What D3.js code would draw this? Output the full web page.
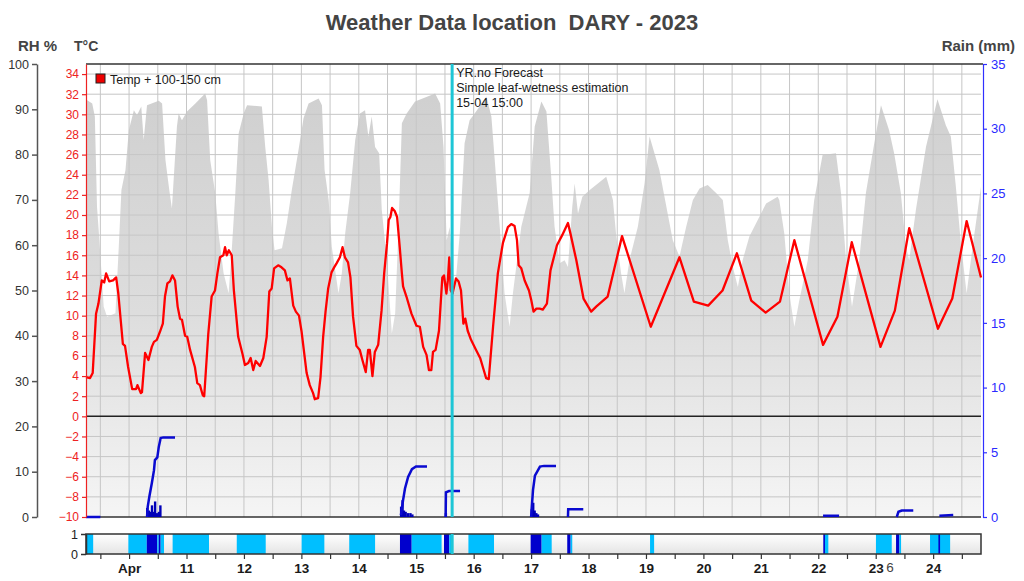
<!DOCTYPE html>
<html>
<head>
<meta charset="utf-8">
<script src="https://cdn.jsdelivr.net/npm/d3@7"></script>
<style>
  body { margin: 0; background: #fff; font-family: "Liberation Sans", Arial, sans-serif; }
  .axis text { font-family: "Liberation Sans", Arial, sans-serif; }
</style>
</head>
<body>
<svg id="chart" width="1024" height="581"></svg>
<script>
// hours are counted from Apr 10 00:00
const tempPoints = [
  [-18,3.9],[-16.3,3.8],[-15.2,4.3],[-13.8,10.2],[-12.8,11.2],[-11.4,13.5],[-10.4,13.3],[-9.6,14.2],[-8.3,13.4],[-6.7,13.5],
  [-5.4,13.8],[-4.5,12.2],[-2.6,7.2],[-1.7,7.0],[-0.4,4.9],[1.3,2.7],[2.9,2.7],[3.5,3.1],[4.9,2.3],[5.4,2.4],
  [6.7,6.3],[8.1,5.6],[9.5,6.9],[10.4,7.4],[11.6,7.6],[12.9,8.4],[14.1,9.2],[15.0,11.9],[16.0,13.2],[17.1,13.4],
  [18.1,14.0],[19.2,13.5],[20.3,10.9],[21.3,9.7],[22.1,9.6],[23.4,8.0],[24.3,7.9],[25.5,6.6],[27.5,4.9],[28.5,3.3],
  [29.6,3.1],[30.8,2.1],[31.4,2.0],[33.1,8.2],[34.5,11.9],[35.9,12.5],[36.9,14.2],[38.0,15.8],[39.4,16.0],[40.1,16.8],
  [40.8,16.0],[41.7,16.5],[42.9,16.0],[43.8,12.5],[45.6,7.9],[47.5,6.1],[48.4,5.1],[49.8,5.3],[50.8,5.8],[51.9,4.6],
  [52.9,5.5],[54.7,5.0],[56.1,5.8],[57.5,7.9],[58.6,12.4],[59.6,12.7],[60.6,14.7],[62.3,15.0],[63.7,14.8],[65.1,14.5],
  [66.2,13.5],[67.2,13.7],[68.6,11.0],[69.7,10.4],[71.0,10.0],[72.1,8.4],[74.2,4.3],[75.5,3.1],[76.9,2.3],[77.6,1.7],
  [79.0,1.8],[80.0,3.9],[81.1,7.9],[82.1,10.4],[83.2,12.7],[84.6,14.3],[85.7,14.8],[86.7,15.2],[88.1,15.8],[89.2,16.8],
  [90.2,15.8],[91.5,15.3],[92.5,13.8],[93.6,9.9],[95.0,7.0],[96.4,6.6],[97.5,5.6],[98.9,4.4],[99.9,6.6],[100.6,6.6],
  [101.7,4.0],[102.7,6.4],[104.1,7.1],[105.5,10.5],[106.6,14.2],[107.8,17.2],[108.5,19.5],[109.2,19.8],[109.9,20.7],[111.0,20.4],
  [112.0,19.8],[113.1,16.8],[114.0,14.2],[114.5,12.9],[115.9,11.9],[118.0,10.2],[120.1,9.0],[121.5,8.9],[122.9,6.9],[124.3,6.1],
  [125.3,4.6],[126.3,4.6],[127.0,6.4],[128.1,6.6],[129.5,8.5],[130.9,13.8],[131.6,14.0],[132.6,12.2],[133.2,13.5],[133.8,15.8],
  [134.4,12.5],[135.2,12.2],[136.6,13.7],[137.7,13.4],[138.7,12.5],[139.7,9.2],[140.5,9.7],[141.5,8.5],[142.9,7.6],[145.0,6.6],
  [146.7,5.8],[148.2,4.6],[149.2,3.8],[150.3,3.7],[152.1,8.9],[154.1,14.2],[156.2,17.2],[158.3,18.8],[159.7,19.1],[161.1,18.9],
  [162.1,17.5],[162.8,15.0],[163.9,14.7],[165.3,13.5],[167.1,12.5],[168.1,11.5],[169.0,10.4],[170.2,10.7],[171.6,10.7],[172.9,10.6],
  [174.6,11.2],[176.1,14.5],[178.8,17.0],[181.0,18.0],[183.4,19.2],[184.4,18.2],[186.9,15.5],[189.9,11.7],[193.1,10.4],[195.2,10.9],
  [200,11.9],[206,17.9],[218,8.9],[230,15.8],[236,11.4],[242,11.0],[248,12.5],[254,16.2],[260,11.5],[266,10.3],
  [272,11.4],[278,17.5],[290,7.1],[296,9.9],[302,17.3],[314,6.9],[320,10.5],[326,18.7],[338,8.7],[344,11.7],
  [350,19.4],[356,13.8]
];

const rhPoints = [
  [-18,92],[-17.5,92],[-15.4,91.3],[-14.3,88.4],[-13.4,68.5],[-12.4,61.1],[-10.6,46.4],[-9.2,44.2],[-5.7,45],[-4.3,59.7],
  [-3.2,72.2],[-1.5,76.6],[-0.1,85.4],[2.0,89.8],[3.3,88.7],[5.1,90.6],[6.1,83.2],[7.5,90.9],[12.4,91.9],[13.8,91.3],
  [15.2,78.8],[16.8,72.2],[17.9,68.1],[18.7,75.1],[20.0,86.2],[20.7,89.1],[22.1,87.6],[24.2,89.5],[27.7,91.3],[31.8,93.5],
  [32.6,92],[33.9,78.8],[36.0,71.5],[37.4,62.6],[39.5,53.8],[41.6,49.4],[43.0,59.7],[44.4,71.5],[45.8,84.7],[47.9,89.1],
  [49.3,90.9],[55.5,90.6],[56.9,81.7],[58.3,74.4],[59.7,64.1],[60.8,58.9],[63.9,59.3],[65.9,64.8],[68.0,72.2],[70.8,81],
  [72.9,88],[75.0,91.3],[79.2,92.4],[80.6,90.9],[81.7,76.6],[83.4,70],[84.7,59.7],[87.5,49.4],[88.9,53.8],[90.3,62.6],
  [92.4,71.5],[94.5,83.2],[96.5,89.1],[98.6,89.8],[100.0,84],[101.4,88.4],[102.8,81.7],[104.5,80.3],[105.6,67.8],[107.7,56.7],
  [109.8,40.5],[111.2,45],[112.6,64.1],[114.0,86.9],[116.0,89.1],[119.5,91.7],[127.9,93.5],[130.0,91.3],[131.4,81.7],[132.7,61.1],
  [134.0,64],[136.1,49.4],[138.2,62.6],[140.2,82.5],[142.3,87.6],[144.4,89.1],[146.5,90.6],[149.3,92.8],[151.4,88.4],[152.8,78.8],
  [154.9,64.1],[156.9,49.4],[159.0,42],[160.4,49.4],[163.9,64.1],[167.4,71.5],[169.5,86.2],[172.3,91.7],[174.4,89.5],[176.4,75.1],
  [177.8,64.1],[179.9,56],[182.0,56.7],[183.4,55.2],[185.2,68.5],[186.2,73.6],[187.6,67],[189.4,70.7],[192.5,72.2],[195.9,73.6],
  [199.4,75.1],[202.2,70],[203.6,61.9],[205.6,53.8],[207.0,49.4],[209.1,56.7],[212.6,64.1],[215.4,73.6],[217.5,84],[221.6,76.6],
  [227.2,61.1],[230.0,57.5],[232.8,64.1],[235.6,70],[238.4,72.5],[241.8,73.3],[245.3,71.5],[248.1,70],[250.2,61.1],[252.3,55.2],
  [254.4,50.8],[256.4,56.7],[259.2,61.9],[263.4,66.3],[266.2,69.2],[271.0,70.7],[271.7,70],[273.8,62.6],[275.9,49.4],[278.0,42],
  [280.1,47.9],[283.6,56.7],[286.3,70],[289.8,79.9],[295.4,80.3],[297.5,71.5],[299.6,56.7],[302.1,46.4],[305.1,56.7],[307.9,71.5],
  [311.4,82.5],[314.2,90.9],[317.6,85.4],[319.7,80.3],[322.5,71.5],[324.6,59.7],[326.0,56.7],[328.8,67.8],[333.0,81.7],[337.8,92.2],
  [341.3,86.5],[343.4,84],[345.5,72.9],[347.6,60.4],[350.0,49.4],[352.5,59.7],[356,72.9]
];

// accumulated rain per shower (mm), null splits the showers
const rainSumPoints = [
  [-18,0],[-12,0], null,
  [7.5,0],[7.8,0.8],[8.5,1.6],[9.5,2.6],[10.4,3.6],[10.8,4.4],[11.8,4.6],[12.4,5.4],[13.2,6.1],[14.3,6.15],[19.2,6.15], null,
  [113.6,0.15],[114.5,1.3],[115.3,2.2],[116.6,3.1],[118.2,3.7],[119.9,3.9],[124.5,3.9], null,
  [132.3,0],[132.4,1.9],[133.7,2.0],[138.3,2.0], null,
  [168.0,0],[168.8,2.1],[169.6,3.2],[171.7,3.9],[173.4,3.95],[178.4,3.95], null,
  [183.4,0],[183.5,0.6],[189.8,0.6], null,
  [290.0,0.1],[296.7,0.1], null,
  [320.8,0],[321.5,0.4],[322.9,0.5],[327.7,0.5], null,
  [338.6,0.1],[344.4,0.15]
];

// hourly rain (mm)
const rainHourly = [
  [7.5,0.7],[8.2,0.5],[9.0,0.4],[9.5,0.9],[10.3,0.4],[10.8,1.2],[11.5,0.3],[12.4,0.4],[13.0,0.9],
  [113.6,0.8],[114.2,1.3],[114.8,0.5],[115.5,0.4],[116.5,0.3],[117.5,0.3],[118.3,0.2],
  [132.3,0.3],[168.2,0.6],[168.8,1.1],[169.4,0.5],[170.1,0.3],[170.8,0.2]
];

// leaf wetness periods: [from, to, kind]
const wetPeriods = [
  [-18,-15,'wet'],[-0.3,7.4,'wet'],[7.4,11.8,'rain'],[11.8,12.4,'wet'],[12.4,13.2,'rain'],[13.2,14.6,'wet'],
  [18.2,33.4,'wet'],[45,57.1,'wet'],[72.1,81.6,'wet'],[92,102.8,'wet'],[113.2,118.1,'rain'],[118.1,130.6,'wet'],
  [131.6,133.8,'rain'],[133.8,135.4,'wet'],[141.8,152.5,'wet'],[167.8,172.4,'rain'],[172.4,176.6,'wet'],
  [183.1,184.5,'rain'],[184.5,185.2,'wet'],[217.7,219.4,'wet'],[290.1,290.8,'rain'],[290.8,292.2,'wet'],
  [312.1,318.7,'wet'],[320.5,321.9,'rain'],[321.9,322.6,'wet'],[334.7,343.1,'wet'],[338.2,338.9,'rain']
];

const dayLabels = ['Apr','11','12','13','14','15','16','17','18','19','20','21','22','23','24'];
const forecastHour = 135; // 15-04 15:00
const annotation = ['YR.no Forecast', 'Simple leaf-wetness estimation', '15-04 15:00'];

const plot = {left: 86, right: 981, top: 64, bottom: 517};
const strip = {top: 534, bottom: 554};
const t0 = new Date(2023, 3, 10);
const toDate = h => new Date(t0.getTime() + h * 3600e3);

const svg = d3.select('#chart');

const x = d3.scaleTime().domain([toDate(-18), toDate(356)]).range([plot.left, plot.right]);
const yT = d3.scaleLinear().domain([-10, 35]).range([plot.bottom, plot.top]);
const yRH = d3.scaleLinear().domain([0, 100]).range([plot.bottom, plot.top]);
const yRain = d3.scaleLinear().domain([0, 35]).range([plot.bottom, plot.top]);
const yWet = d3.scaleLinear().domain([0, 1]).range([strip.bottom, strip.top]);

const defs = svg.append('defs');
let g1 = defs.append('linearGradient').attr('id', 'rhGrad')
  .attr('gradientUnits', 'userSpaceOnUse')
  .attr('x1', 0).attr('x2', 0).attr('y1', plot.top).attr('y2', plot.bottom);
g1.append('stop').attr('offset', 0).attr('stop-color', '#cecece');
g1.append('stop').attr('offset', 0.55).attr('stop-color', '#dddddd');
g1.append('stop').attr('offset', 1).attr('stop-color', '#f5f5f5');
let g2 = defs.append('linearGradient').attr('id', 'stripGrad')
  .attr('x1', 0).attr('x2', 0).attr('y1', 0).attr('y2', 1);
g2.append('stop').attr('offset', 0).attr('stop-color', '#ffffff');
g2.append('stop').attr('offset', 1).attr('stop-color', '#e4e4e4');

// RH area
svg.append('path')
  .datum(rhPoints)
  .attr('fill', 'url(#rhGrad)')
  .attr('d', d3.area()
    .x(d => x(toDate(d[0])))
    .y0(plot.bottom)
    .y1(d => yRH(d[1])));

// grid
const gridHours = d3.range(-12, 356, 12);
svg.append('g').selectAll('line')
  .data(gridHours)
  .enter()
  .append('line')
  .attr('x1', d => x(toDate(d))).attr('x2', d => x(toDate(d)))
  .attr('y1', plot.top).attr('y2', plot.bottom)
  .attr('stroke', '#c6c6c6');
svg.append('g').selectAll('line')
  .data(d3.range(-8, 35, 2))
  .enter()
  .append('line')
  .attr('x1', plot.left).attr('x2', plot.right)
  .attr('y1', d => yT(d)).attr('y2', d => yT(d))
  .attr('stroke', d => d === 0 ? '#222' : '#c6c6c6')
  .attr('stroke-width', d => d === 0 ? 1.5 : 1);

// frame lines
svg.append('line').attr('x1', plot.left).attr('x2', plot.right + 2)
  .attr('y1', plot.top).attr('y2', plot.top).attr('stroke', '#333').attr('stroke-width', 1.5);
svg.append('line').attr('x1', plot.left).attr('x2', plot.right)
  .attr('y1', plot.bottom).attr('y2', plot.bottom).attr('stroke', '#333').attr('stroke-width', 1.5);

// hourly rain spikes
svg.append('g').selectAll('rect')
  .data(rainHourly)
  .enter()
  .append('rect')
  .attr('x', d => x(toDate(d[0])) - 1)
  .attr('width', d => x(toDate(d[0] + 1)) - x(toDate(d[0])))
  .attr('y', d => yRain(d[1]))
  .attr('height', d => plot.bottom - yRain(d[1]))
  .attr('fill', '#0000b8');

// accumulated rain
svg.append('path')
  .datum(rainSumPoints)
  .attr('fill', 'none')
  .attr('stroke', '#0a0ad0')
  .attr('stroke-width', 2.5)
  .attr('d', d3.line()
    .defined(d => d !== null)
    .x(d => x(toDate(d[0])))
    .y(d => yRain(d[1])));

// temperature
svg.append('path')
  .datum(tempPoints)
  .attr('fill', 'none')
  .attr('stroke', '#ff0000')
  .attr('stroke-width', 2.3)
  .attr('stroke-linejoin', 'round')
  .attr('d', d3.line()
    .x(d => x(toDate(d[0])))
    .y(d => yT(d[1])));

// leaf wetness strip
svg.append('rect')
  .attr('x', plot.left).attr('y', strip.top)
  .attr('width', plot.right - plot.left).attr('height', strip.bottom - strip.top)
  .attr('fill', 'url(#stripGrad)');
svg.append('g').selectAll('rect')
  .data(wetPeriods)
  .enter()
  .append('rect')
  .attr('x', d => x(toDate(d[0])))
  .attr('width', d => x(toDate(d[1])) - x(toDate(d[0])))
  .attr('y', yWet(1))
  .attr('height', yWet(0) - yWet(1))
  .attr('fill', d => d[2] === 'rain' ? '#0000cd' : '#00bfff');
svg.append('rect')
  .attr('x', plot.left).attr('y', strip.top)
  .attr('width', plot.right - plot.left).attr('height', strip.bottom - strip.top)
  .attr('fill', 'none').attr('stroke', '#333').attr('stroke-width', 1.5);

// forecast marker
const fx = x(toDate(forecastHour));
[[plot.top, plot.bottom], [strip.top, strip.bottom]].forEach(r => {
  svg.append('line').attr('x1', fx).attr('x2', fx).attr('y1', r[0]).attr('y2', r[1])
    .attr('stroke', '#1ec6d6').attr('stroke-width', 3);
});
svg.append('g').selectAll('text')
  .data(annotation)
  .enter()
  .append('text')
  .attr('x', fx + 4)
  .attr('y', (d, i) => 77 + i * 15)
  .attr('font-size', 12.5)
  .attr('fill', '#1a1a1a')
  .text(d => d);

// axes
const rhAxis = svg.append('g').attr('class', 'axis')
  .attr('transform', 'translate(37,0)')
  .call(d3.axisLeft(yRH).tickValues(d3.range(0, 101, 10)).tickSize(5).tickPadding(3).tickSizeOuter(0));
rhAxis.selectAll('path,line').attr('stroke', '#555').attr('stroke-width', 1.5);
rhAxis.selectAll('text').attr('fill', '#333').attr('font-size', 12.5);

const tAxis = svg.append('g').attr('class', 'axis')
  .attr('transform', `translate(${plot.left},0)`)
  .call(d3.axisLeft(yT).tickValues(d3.range(-10, 35, 2)).tickSize(4).tickPadding(3).tickSizeOuter(0));
tAxis.selectAll('path,line').attr('stroke', '#ee2222').attr('stroke-width', 1.2);
tAxis.selectAll('text').attr('fill', '#ee2222').attr('font-size', 12);

const rainAxis = svg.append('g').attr('class', 'axis')
  .attr('transform', `translate(${plot.right + 2},0)`)
  .call(d3.axisRight(yRain).tickValues(d3.range(0, 36, 5)).tickSize(4).tickPadding(4).tickSizeOuter(0));
rainAxis.selectAll('path,line').attr('stroke', '#3030ff').attr('stroke-width', 1.2);
rainAxis.selectAll('text').attr('fill', '#2a2aff').attr('font-size', 13);

const wetAxis = svg.append('g').attr('class', 'axis')
  .attr('transform', `translate(${plot.left},0)`)
  .call(d3.axisLeft(yWet).tickValues([0, 1]).tickFormat(d3.format('d'))
    .tickSize(5).tickPadding(3).tickSizeOuter(0));
wetAxis.selectAll('path,line').attr('stroke', '#333').attr('stroke-width', 1.5);
wetAxis.selectAll('text').attr('fill', '#222').attr('font-size', 12.5);

const xAxis = svg.append('g').attr('class', 'axis')
  .attr('transform', `translate(0,${strip.bottom})`)
  .call(d3.axisBottom(x)
    .tickValues(gridHours.map(toDate))
    .tickSize(5).tickPadding(4).tickSizeOuter(0)
    .tickFormat(d => d.getHours() === 0 ? dayLabels[Math.round((d - t0) / 864e5)] : ''));
xAxis.select('.domain').remove();
xAxis.selectAll('line').attr('stroke', '#333').attr('stroke-width', 1.2);
xAxis.selectAll('text').attr('fill', '#1a1a1a').attr('font-size', 13.5).attr('font-weight', 'bold');
svg.append('text')
  .attr('x', x(toDate(318)))
  .attr('y', strip.bottom + 18)
  .attr('text-anchor', 'middle')
  .attr('font-size', 13.5)
  .attr('fill', '#444')
  .text('6');

// titles
svg.append('text').attr('x', 512).attr('y', 30).attr('text-anchor', 'middle')
  .attr('font-size', 22).attr('font-weight', 'bold').attr('fill', '#444')
  .style('white-space', 'pre')
  .text('Weather Data location  DARY - 2023');
svg.append('text').attr('x', 18).attr('y', 51).attr('font-size', 15).attr('font-weight', 'bold')
  .attr('fill', '#444').text('RH %');
svg.append('text').attr('x', 74).attr('y', 51).attr('font-size', 14).attr('font-weight', 'bold')
  .attr('fill', '#444').text('T°C');
svg.append('text').attr('x', 1015).attr('y', 51).attr('text-anchor', 'end').attr('font-size', 15)
  .attr('font-weight', 'bold').attr('fill', '#444').text('Rain (mm)');

// legend
svg.append('rect').attr('x', 96).attr('y', 74).attr('width', 9).attr('height', 9)
  .attr('fill', '#ee0000').attr('stroke', '#222');
svg.append('text').attr('x', 110).attr('y', 84).attr('font-size', 12.5).attr('fill', '#1a1a1a')
  .text('Temp + 100-150 cm');
</script>
</body>
</html>
